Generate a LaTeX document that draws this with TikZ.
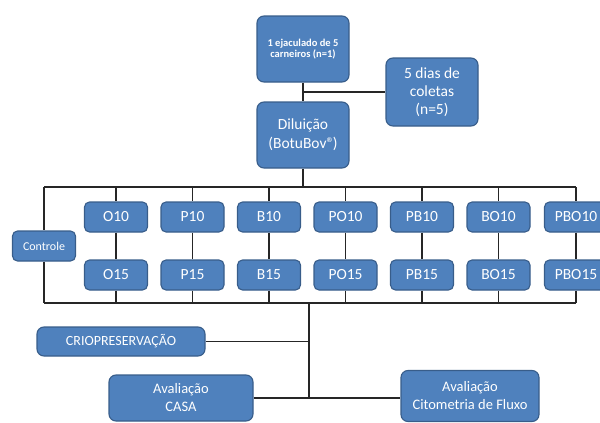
\documentclass[tikz,border=0pt]{standalone}
\usepackage{fontspec}
\setmainfont{Carlito}
\usepackage{xcolor}
\usetikzlibrary{positioning, calc}

\definecolor{boxblue}{RGB}{79,129,189}
\definecolor{boxedge}{RGB}{56,93,138}

\begin{document}
\begin{tikzpicture}[
    x=1pt, y=-1pt,
    box/.style={draw=boxedge, fill=boxblue, line width=1.1pt, rounded corners=7pt, text=white, align=center, inner sep=0pt, font=\fontsize{15.5}{19}\selectfont},
    trt/.style={box, minimum width=63pt, minimum height=30pt, rounded corners=5pt},
    big/.style={box, minimum width=92pt, minimum height=66pt},
    link/.style={line width=1.4pt, draw=black!85}
]
\useasboundingbox (0,0) rectangle (600,423);
\clip (0,0) rectangle (600,423);

% sample and dilution
\node[big, font=\bfseries\fontsize{10.5}{11.5}\selectfont] (ejac) at (303,49) {1 ejaculado de 5\\carneiros (n=1)};
\node[big] (dil) at (303,135) {Diluição\\(BotuBov®\kern-1.5pt)};
\node[big, minimum height=68pt, font=\fontsize{15.5}{18}\selectfont] (col) at (432,92) {5 dias de\\coletas\\(n=5)};

% treatments
\node[trt, font=\fontsize{12}{14}\selectfont] (ctrl) at (44,246) {Controle};
\node[trt] (O10) at (116,217) {O10};
\node[trt] (O15) at (116,275) {O15};
\node[trt] (P10) at (192.5,217) {P10};
\node[trt] (P15) at (192.5,275) {P15};
\node[trt] (B10) at (269,217) {B10};
\node[trt] (B15) at (269,275) {B15};
\node[trt] (PO10) at (345.5,217) {PO10};
\node[trt] (PO15) at (345.5,275) {PO15};
\node[trt] (PB10) at (422,217) {PB10};
\node[trt] (PB15) at (422,275) {PB15};
\node[trt] (BO10) at (498.5,217) {BO10};
\node[trt] (BO15) at (498.5,275) {BO15};
\node[trt] (PBO10) at (576,217) {PBO10};
\node[trt] (PBO15) at (576,275) {PBO15};

% freezing and evaluation
\node[box, minimum width=168pt, minimum height=29pt, font=\fontsize{14}{17}\selectfont] (crio) at (121,341.5) {CRIOPRESERVAÇÃO};
\node[box, minimum width=144pt, minimum height=46pt, font=\fontsize{14.5}{18}\selectfont] (casa) at (181,398) {Avaliação\\CASA};
\node[box, minimum width=138pt, minimum height=51pt, font=\fontsize{14.5}{18}\selectfont] (cito) at (470,396) {Avaliação\\Citometria de Fluxo};

\coordinate (topL) at (ctrl.north |- 0,187);
\coordinate (topR) at (PBO10.north |- 0,187);
\coordinate (botL) at (ctrl.south |- 0,303);
\coordinate (botR) at (PBO15.south |- 0,303);
\coordinate (hub) at (309,303);

\draw[link] (ejac) -- (dil);
\draw[link] (ejac.south |- col.west) -- (col.west);
\draw[link] (dil.south) -- (dil.south |- topL);
\draw[link] (topL) -- (topR);
\draw[link] (botL) -- (botR);
\draw[link] (topL) -- (ctrl.north) (ctrl.south) -- (botL);
\draw[link] (O10.north |- topL) -- (O10.north) (O10) -- (O15) (O15.south) -- (O15.south |- botL);
\draw[link] (P10.north |- topL) -- (P10.north) (P10) -- (P15) (P15.south) -- (P15.south |- botL);
\draw[link] (B10.north |- topL) -- (B10.north) (B10) -- (B15) (B15.south) -- (B15.south |- botL);
\draw[link] (PO10.north |- topL) -- (PO10.north) (PO10) -- (PO15) (PO15.south) -- (PO15.south |- botL);
\draw[link] (PB10.north |- topL) -- (PB10.north) (PB10) -- (PB15) (PB15.south) -- (PB15.south |- botL);
\draw[link] (BO10.north |- topL) -- (BO10.north) (BO10) -- (BO15) (BO15.south) -- (BO15.south |- botL);
\draw[link] (topR) -- (PBO10.north) (PBO10) -- (PBO15) (PBO15.south) -- (botR);
\draw[link] (hub) -- (hub |- casa.east);
\draw[link] (crio.east) -- (crio.east -| hub);
\draw[link] (casa.east) -- (casa.east -| cito.west);
\end{tikzpicture}
\end{document}
